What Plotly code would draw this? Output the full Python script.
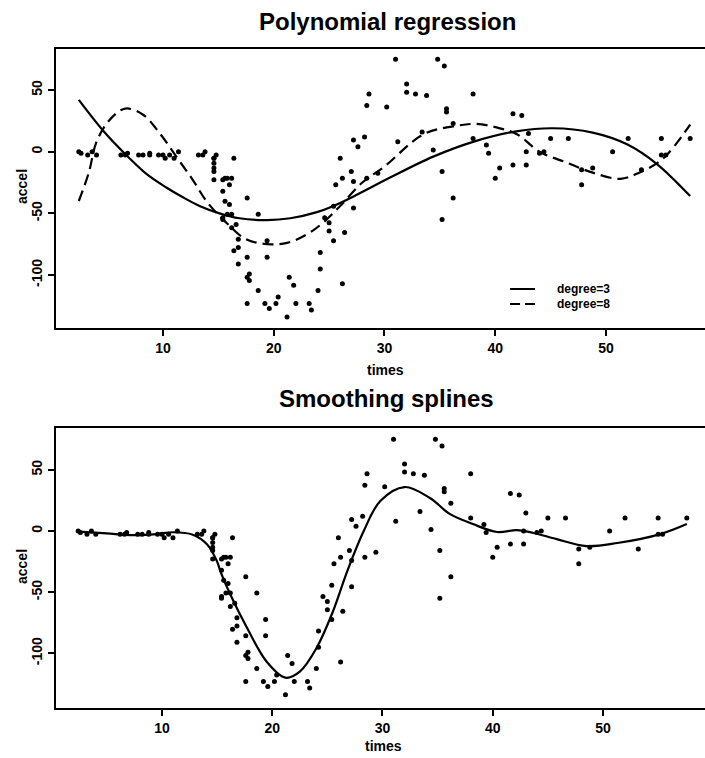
import plotly.graph_objects as go

# Motorcycle crash data: time after impact (ms) and head acceleration (g)
times = [2.4, 2.6, 3.2, 3.6, 4.0, 6.2, 6.6, 6.8, 7.8, 8.2, 8.8, 8.8, 9.6, 10.0, 10.2,
         10.6, 11.0, 11.4, 13.2, 13.6, 13.8, 14.6, 14.6, 14.6, 14.6, 14.6, 14.6, 14.8,
         15.4, 15.4, 15.4, 15.4, 15.6, 15.6, 15.8, 15.8, 16.0, 16.0, 16.2, 16.2, 16.2,
         16.4, 16.4, 16.6, 16.8, 16.8, 16.8, 17.6, 17.6, 17.6, 17.6, 17.8, 17.8, 18.6,
         18.6, 19.2, 19.4, 19.4, 19.6, 20.2, 20.4, 21.2, 21.4, 21.8, 22.0, 23.2, 23.4,
         24.0, 24.2, 24.2, 24.6, 25.0, 25.0, 25.4, 25.4, 25.6, 26.0, 26.2, 26.2, 26.4,
         27.0, 27.2, 27.2, 27.2, 27.6, 28.2, 28.4, 28.4, 28.6, 29.4, 30.2, 31.0, 31.2,
         32.0, 32.0, 32.8, 33.4, 33.8, 34.4, 34.8, 35.2, 35.2, 35.4, 35.6, 35.6, 36.2,
         36.2, 38.0, 38.0, 39.2, 39.4, 40.0, 40.4, 41.6, 41.6, 42.4, 42.8, 42.8, 43.0,
         44.0, 44.4, 45.0, 46.6, 47.8, 47.8, 48.8, 50.6, 52.0, 53.2, 55.0, 55.0, 55.4,
         57.6]
accel = [0.0, -1.3, -2.7, 0.0, -2.7, -2.7, -2.7, -1.3, -2.7, -2.7, -1.3, -2.7, -2.7,
         -2.7, -5.4, -2.7, -5.4, 0.0, -2.7, -2.7, 0.0, -13.3, -5.4, -5.4, -9.3, -16.0,
         -22.8, -2.7, -22.8, -32.1, -53.5, -54.9, -40.2, -21.5, -21.5, -50.8, -42.9,
         -26.8, -21.5, -50.8, -61.7, -5.4, -80.4, -59.0, -71.0, -91.1, -77.7, -37.5,
         -85.6, -123.1, -101.9, -99.1, -104.4, -112.5, -50.8, -123.1, -85.6, -72.3,
         -127.2, -123.1, -117.9, -134.0, -101.9, -108.4, -123.1, -123.1, -128.5,
         -112.5, -95.1, -81.8, -53.5, -64.4, -57.6, -72.3, -44.3, -26.8, -5.4, -107.1,
         -21.5, -65.6, -16.0, -45.6, -24.2, 9.5, 4.0, 12.0, -21.5, 37.5, 46.9, -17.4,
         36.2, 75.0, 8.1, 54.9, 48.2, 46.9, 16.0, 45.6, 1.3, 75.0, -16.0, -54.9, 69.6,
         34.8, 32.1, -37.5, 22.8, 46.9, 10.7, 5.4, -1.3, -21.5, -13.3, 30.8, -10.7,
         29.4, 0.0, -10.7, 14.7, -1.3, 0.0, 10.7, 10.7, -26.8, -14.7, -13.3, 0.0, 10.7,
         -14.7, -2.7, 10.7, -2.7, 10.7]

# Fitted curves, sampled along the time axis
poly3_t = [2.4, 4.6, 6.6, 8.5, 10.3, 11.8, 13.3, 15.1, 16.9, 19.4, 21.5, 23.9, 25.4,
           27.5, 30.5, 34.4, 38.0, 41.9, 45.2, 48.8, 51.9, 54.6, 57.6]
poly3_y = [42, 17, -2, -18, -29, -37, -44, -50, -54, -55.5, -54, -49, -44, -35, -21,
           -4, 8, 16.5, 19, 15.5, 6, -10, -36]

poly8_t = [2.4, 3.3, 4.0, 5.2, 6.6, 8.2, 9.7, 11.2, 12.7, 14.0, 16.0, 17.5, 19.4,
           21.2, 23.0, 24.4, 26.0, 28.0, 30.0, 33.5, 36.5, 38.3, 40.2, 42.0, 44.0,
           46.5, 48.8, 51.3, 53.0, 55.1, 57.6]
poly8_y = [-40, -17, 8, 26, 35, 30, 15, -4, -23, -41, -60, -71, -75, -74, -67, -58,
           -44, -25, -12, 14, 21, 22.5, 19.5, 14, 0, -9, -17, -22, -17, -6, 22]

spline_t = [2.4, 5.0, 7.4, 9.5, 11.0, 12.8, 14.1, 15.0, 15.3, 16.2, 17.7, 19.5, 21.2,
            22.5, 24.0, 25.5, 26.8, 28.3, 29.8, 32.0, 34.3, 36.1, 38.2, 40.4, 42.2,
            43.7, 45.8, 48.5, 51.3, 55.2, 57.6]
spline_y = [-0.5, -2, -3.3, -2.5, -1, -3, -11, -25, -33, -52, -79, -107, -120, -115,
            -96, -66, -33, 0, 24.6, 36, 27, 14, 5.7, -0.8, 0.8, -1.6, -6.6, -12.3,
            -9.8, -2.5, 5.7]

y_ticks = [-100, -50, 0, 50]
y_tick_text = ["-100", "-50", "0", "50"]
x_ticks = [10, 20, 30, 40, 50]

FONT = "Liberation Sans, Arial, Helvetica, sans-serif"
W, H = 705, 758
LEFT = 56

fig = go.Figure()

pts = dict(mode="markers", marker=dict(color="black", size=5), showlegend=False,
           hoverinfo="skip")

# Upper panel: polynomial fits
fig.add_trace(go.Scatter(x=times, y=accel, xaxis="x", yaxis="y", **pts))
fig.add_trace(go.Scatter(x=poly3_t, y=poly3_y, xaxis="x", yaxis="y", mode="lines",
                         line=dict(color="black", width=2.2, shape="spline"),
                         showlegend=False))
fig.add_trace(go.Scatter(x=poly8_t, y=poly8_y, xaxis="x", yaxis="y", mode="lines",
                         line=dict(color="black", width=2.2, shape="spline",
                                   dash="11px,6px"),
                         showlegend=False))

# Lower panel: smoothing spline
fig.add_trace(go.Scatter(x=times, y=accel, xaxis="x2", yaxis="y2", **pts))
fig.add_trace(go.Scatter(x=spline_t, y=spline_y, xaxis="x2", yaxis="y2", mode="lines",
                         line=dict(color="black", width=2.2, shape="spline"),
                         showlegend=False))


def px_y(p):
    return 1 - p / H


def px_x(p):
    return (p - LEFT) / (W - LEFT)


tick_font = dict(family=FONT, size=14, color="black", weight="bold")
xcommon = dict(showgrid=False, zeroline=False, showline=True, linecolor="black",
               linewidth=2, mirror=True, ticks="outside", ticklen=6, tickwidth=1.5,
               tickcolor="black", tickvals=x_ticks, tickfont=tick_font)
ycommon = dict(showgrid=False, zeroline=False, showline=True, linecolor="black",
               linewidth=2, mirror=False, ticks="outside", ticklen=6, tickwidth=1.5,
               tickcolor="black", tickvals=y_ticks, ticktext=y_tick_text,
               tickangle=-90, tickfont=tick_font)

fig.update_layout(
    width=W, height=H,
    margin=dict(l=LEFT, r=0, t=0, b=0),
    paper_bgcolor="white", plot_bgcolor="white",
    xaxis=dict(domain=[0, 1], anchor="y", range=[0.34, 58.94], **xcommon),
    yaxis=dict(domain=[px_y(328), px_y(49)], anchor="x", range=[-143, 83.3], **ycommon),
    xaxis2=dict(domain=[0, 1], anchor="y2", range=[0.39, 59.25], **xcommon),
    yaxis2=dict(domain=[px_y(708), px_y(428)], anchor="x2", range=[-144.8, 84.3],
                **ycommon),
)

title_font = dict(family=FONT, size=24, color="black", weight="bold")
label_font = dict(family=FONT, size=14, color="black", weight="bold")


def text(s, x, y, font, angle=0, xanchor="center"):
    fig.add_annotation(text=s, xref="paper", yref="paper", x=x, y=y,
                       xanchor=xanchor, yanchor="middle", showarrow=False,
                       font=font, textangle=angle)


text("Polynomial regression", px_x(387), px_y(22), title_font)
text("Smoothing splines", px_x(386), px_y(398), title_font)
text("times", px_x(385), px_y(370), label_font)
text("times", px_x(383), px_y(746), label_font)
text("accel", px_x(22), px_y(187), label_font, angle=-90)
text("accel", px_x(22), px_y(567), label_font, angle=-90)

# Key for the two polynomial fits
key_font = dict(family=FONT, size=12, color="black", weight="bold")
for label, ypx, dash in [("degree=3", 289, "solid"), ("degree=8", 304, "10px,5px")]:
    fig.add_shape(type="line", xref="paper", yref="paper",
                  x0=px_x(510), x1=px_x(535), y0=px_y(ypx), y1=px_y(ypx),
                  line=dict(color="black", width=2, dash=dash))
    text(label, px_x(555), px_y(ypx), key_font, xanchor="left")

fig.write_html("out.html")
